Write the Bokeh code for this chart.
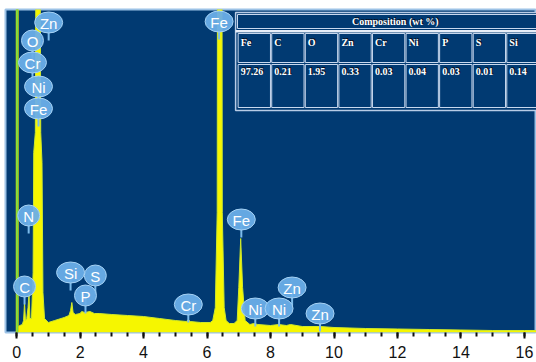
from bokeh.plotting import figure
from bokeh.models import ColumnDataSource, SingleIntervalTicker, Range1d
from bokeh.embed import file_html
from bokeh.resources import INLINE
from bokeh.core.properties import value

# ---- spectrum (energy in keV, intensity in arbitrary units) ----
energy_kev = [0.00, 0.05, 0.10, 0.18, 0.22, 0.25, 0.28, 0.32, 0.36, 0.39, 0.42, 0.47,
              0.52, 0.54, 0.59, 0.61, 0.74, 0.76, 0.80, 0.83, 0.88, 1.00, 1.20, 1.50,
              1.65, 1.70, 1.74, 1.78, 1.85, 2.00, 2.05, 2.15, 2.31, 2.45, 2.60, 3.00,
              3.50, 4.00, 4.50, 5.00, 5.35, 5.41, 5.47, 5.80, 6.10, 6.18, 6.26, 6.32,
              6.33, 6.47, 6.48, 6.54, 6.60, 6.70, 6.85, 6.95, 7.00, 7.06, 7.12, 7.20,
              7.35, 7.47, 7.60, 8.00, 8.26, 8.50, 8.63, 9.00, 9.57, 10.00, 11.00, 12.00,
              13.00, 14.00, 15.00, 16.00, 16.40]
counts = [0, 6, 7, 8, 12, 30, 12, 14, 25, 39, 14, 14,
          60, 180, 200, 400, 400, 200, 170, 40, 14, 10, 12, 15,
          17, 22, 30, 20, 18, 19, 21, 20, 21, 19, 19, 18,
          17, 16, 14, 12, 11, 13, 11, 10, 10, 12, 25, 120,
          400, 400, 120, 25, 12, 9, 9, 12, 45, 94, 45, 12,
          8, 9, 8, 7, 8, 7, 8, 6, 6, 5, 4, 3.5,
          3, 2.5, 2, 2, 2]
zero_peak_kev = [0.02]

# ---- peak identification markers ----
label_text = ["Zn", "O", "Cr", "Ni", "Fe", "N", "C", "Si", "S", "P",
              "Cr", "Fe", "Fe", "Ni", "Ni", "Zn", "Zn"]
label_kev = [1.01, 0.50, 0.50, 0.69, 0.69, 0.38, 0.25, 1.70, 2.48, 2.17,
             5.41, 6.38, 7.08, 7.52, 8.27, 8.68, 9.56]
label_level = [310, 292, 270, 246, 224, 117, 46, 60, 57, 37,
               28, 311, 113, 24, 24, 45, 19]

# ---- composition table ----
comp_elements = ["Fe", "C", "O", "Zn", "Cr", "Ni", "P", "S", "Si"]
comp_wt = [97.26, 0.21, 1.95, 0.33, 0.03, 0.04, 0.03, 0.01, 0.14]
table_title = "Composition (wt %)"
x_ticks_interval = 2

BG = "#013a72"
YEL = "#f6f600"

p = figure(width=536, height=362, output_backend="svg", toolbar_location=None,
           x_range=Range1d(-0.35, 16.38), y_range=Range1d(0, 323),
           min_border_left=5, min_border_right=0, min_border_top=9, min_border_bottom=30)
p.background_fill_color = BG
p.border_fill_color = "white"
p.outline_line_color = "#9cc2e6"
p.outline_line_width = 2
p.grid.visible = False
p.yaxis.visible = False

ax = p.xaxis[0]
ax.ticker = SingleIntervalTicker(interval=x_ticks_interval, num_minor_ticks=4)
ax.axis_line_color = None
ax.major_tick_in = 0
ax.major_tick_out = 6
ax.minor_tick_in = 0
ax.minor_tick_out = 4
ax.major_tick_line_color = "#111111"
ax.minor_tick_line_color = "#111111"
ax.major_tick_line_width = 2
ax.minor_tick_line_width = 2
ax.major_label_text_font = "Liberation Sans"
ax.major_label_text_font_size = "16px"
ax.major_label_text_color = "#111111"
ax.major_label_standoff = 7

# spectrum
src = ColumnDataSource(dict(x=energy_kev, y=counts))
p.varea(x="x", y1=0, y2="y", source=src, fill_color=YEL)
p.line(x="x", y="y", source=src, line_color="#cfe82a", line_width=1)

# zero-energy line
p.segment(x0=zero_peak_kev, y0=[0], x1=zero_peak_kev, y1=[330], line_color="#c8d010", line_width=3)
p.segment(x0=zero_peak_kev, y0=[0], x1=zero_peak_kev, y1=[330], line_color="#74e048", line_width=1.5)

# markers
stem_len = 18
lab = ColumnDataSource(dict(
    x=label_kev, y=label_level, t=label_text,
    y0=[v - stem_len for v in label_level],
    w=[16 + 6 * len(t) for t in label_text]))
p.segment(x0="x", y0="y", x1="x", y1="y0", source=lab, line_color="#7cbcec", line_width=2)
p.ellipse(x="x", y="y", width="w", height=21, width_units="screen", height_units="screen",
          source=lab, fill_color="#6aaee8", fill_alpha=0.95, line_color="#a6d2f4", line_width=1)
p.text(x="x", y="y", text="t", source=lab, text_align="center", text_baseline="middle",
       text_font=value("Liberation Sans"), text_font_size="15px", text_color="white",
       y_offset=1)

# table
X0 = 6.96
CW = 1.058
XR = 16.9
p.quad(left=[X0 - 0.06], right=[XR], bottom=[222], top=[320], fill_color=BG,
       line_color="#b8cce6", line_width=1.5)
p.quad(left=[X0], right=[XR], bottom=[304], top=[318], fill_color=BG,
       line_color="#c8d8ee", line_width=1)
p.quad(left=[X0 - 0.06], right=[XR], bottom=[300], top=[302.5], fill_color="#e8eef8",
       line_color=None)
n = len(comp_elements)
lefts = [X0 + i * CW + 0.02 for i in range(n)]
rights = [X0 + (i + 1) * CW - 0.02 for i in range(n)]
p.quad(left=lefts, right=rights, bottom=[270] * n, top=[299] * n, fill_color=BG,
       line_color="#c8d8ee", line_width=1)
p.quad(left=lefts, right=rights, bottom=[225] * n, top=[268] * n, fill_color=BG,
       line_color="#c8d8ee", line_width=1)

tx = [l + 0.08 for l in lefts]
vals = ["%.2f" % v for v in comp_wt]
for dx, dy, col in [(1, -1, "#0a1020"), (0, 0, "white")]:
    p.text(x=tx, y=[296] * n, text=comp_elements, x_offset=dx, y_offset=dy,
           text_font=value("Liberation Serif"), text_font_style="bold",
           text_font_size="10px", text_color=col, text_baseline="top")
    p.text(x=tx, y=[265] * n, text=vals, x_offset=dx, y_offset=dy,
           text_font=value("Liberation Serif"), text_font_style="bold",
           text_font_size="10px", text_color=col, text_baseline="top")
    p.text(x=[(X0 + XR) / 2], y=[311], text=[table_title], x_offset=dx, y_offset=dy,
           text_font=value("Liberation Serif"), text_font_style="bold",
           text_font_size="10px", text_color=col, text_align="center",
           text_baseline="middle")

open("out.html", "w").write(file_html(p, INLINE))
